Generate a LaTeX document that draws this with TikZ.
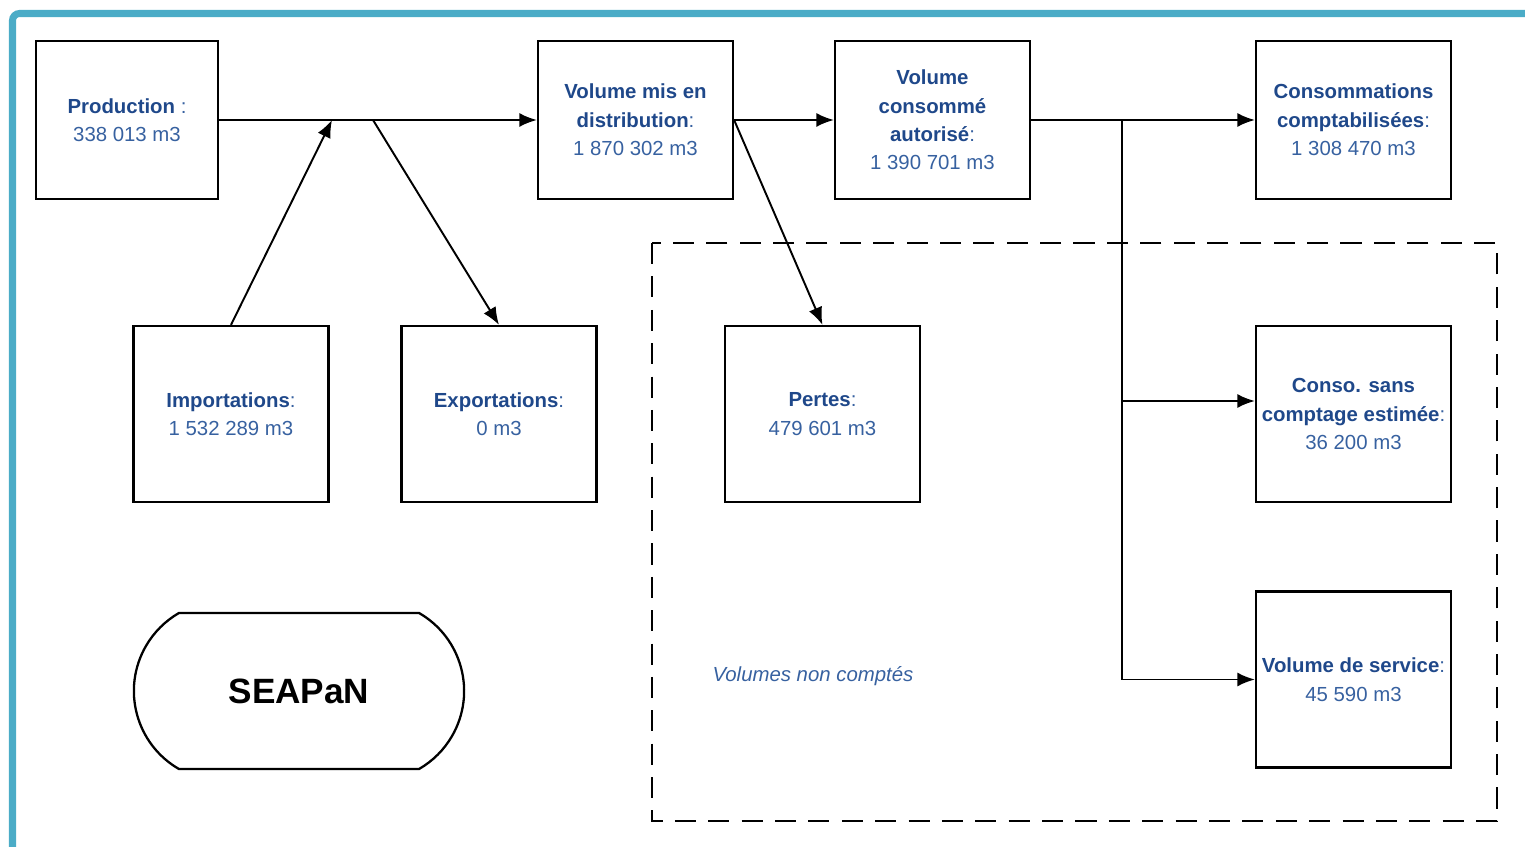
\documentclass[tikz,border=0pt]{standalone}
\usepackage{fontspec}
\setmainfont{Liberation Sans}
\usepackage{tikz}
\usetikzlibrary{arrows.meta,shapes.misc}
\definecolor{ttlblue}{RGB}{31,72,138}
\definecolor{valblue}{RGB}{55,97,160}
\definecolor{framecol}{RGB}{75,172,199}
\newcommand{\ttl}[1]{\textcolor{ttlblue}{\textbf{#1}}}

\begin{document}
\begin{tikzpicture}[x=0.02cm,y=-0.02cm,
    box/.style={draw,line width=1.3pt,align=center,text=valblue,inner sep=0pt,
        font=\fontsize{11.6}{16.2}\selectfont,minimum width=3.9cm},
    topbox/.style={box,minimum height=3.16cm},
    lowbox/.style={box,minimum height=3.52cm},
    flow/.style={line width=1.1pt,-{Latex[length=10pt,width=8pt]}}]
    \useasboundingbox (0,0) rectangle (1525,847);
    \draw[framecol,line width=4pt,rounded corners=4pt] (12.5,900) -- (12.5,13.5) -- (1560,13.5);
    % ligne du haut
    \node[topbox,minimum width=3.64cm] (prod) at (127,120) {\ttl{Production} :\\338 013 m3};
    \node[topbox] (distri) at (635.5,120) {\ttl{Volume mis en}\\\ttl{distribution}:\\1 870 302 m3};
    \node[topbox] (conso) at (932.5,120) {\ttl{Volume}\\\ttl{consommé}\\\ttl{autorisé}:\\1 390 701 m3};
    \node[topbox] (compta) at (1353.5,120) {\ttl{Consommations}\\\ttl{comptabilisées}:\\1 308 470 m3};
    % ligne du bas
    \node[lowbox] (impo) at (231,414) {\ttl{Importations}:\\1 532 289 m3};
    \node[lowbox] (expo) at (499,414) {\ttl{Exportations}:\\0 m3};
    \node[lowbox] (pertes) at (822.5,414) {\ttl{Pertes}:\\479 601 m3};
    \node[lowbox] (estim) at (1353.5,414) {\ttl{Conso. sans}\\\ttl{comptage estimée}:\\36 200 m3};
    \node[lowbox] (service) at (1353.5,679.5) {\ttl{Volume de service}:\\45 590 m3};
    \node[draw,line width=1.3pt,rounded rectangle,rounded rectangle arc length=120,
        minimum width=6.84cm,minimum height=3.12cm,font=\fontsize{20}{24}\selectfont\bfseries]
        (seapan) at (299,691) {SEAPaN};
    % volumes non comptes
    \draw[line width=1.3pt,dash pattern=on 12pt off 7pt] (652,243) rectangle (1497,821);
    \node[text=valblue,font=\fontsize{11.6}{14}\selectfont\itshape] (nc) at (813,676) {Volumes non comptés};
    % fleches
    \coordinate (jimp) at (332,120);
    \coordinate (jexp) at (373,120);
    \coordinate (jconso) at (1122,120);
    \draw[flow] (prod.east) -- (distri.west);
    \draw[flow] (impo.north) -- (jimp);
    \draw[flow] (jexp) -- (expo.north);
    \draw[flow] (distri.east) -- (conso.west);
    \draw[flow] (distri.east) -- (pertes.north);
    \draw[flow] (conso.east) -- (compta.west);
    \draw[flow] (jconso) |- ([yshift=0.26cm]estim.west);
    \draw[flow] (jconso) |- (service.west);
\end{tikzpicture}
\end{document}
